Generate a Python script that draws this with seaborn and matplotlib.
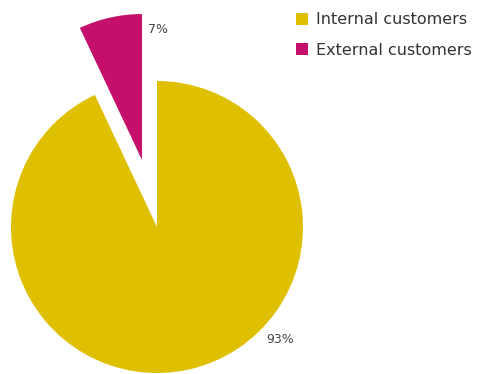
import matplotlib
matplotlib.use("Agg")
import matplotlib.pyplot as plt
import seaborn as sns
from matplotlib.lines import Line2D

categories = ["External customers", "Internal customers"]
values = [7, 93]
labels = ["7%", "93%"]
colors = ["#C4106A", "#DFC000"]

sns.set_theme(style="white")
plt.rcParams['font.family'] = ['DejaVu Sans']

fig = plt.figure(figsize=(4.78, 3.74), dpi=100)
ax = fig.add_axes([0, 0, 1, 1])
s = 146.0
cx, cy = 157.0, 147.0

ax.pie(values, colors=colors, startangle=90, counterclock=True,
       explode=[0.47, 0], radius=1.0, center=(0, 0), frame=True,
       wedgeprops=dict(linewidth=0))
ax.set_xlim(-cx / s, (478 - cx) / s)
ax.set_ylim(-cy / s, (374 - cy) / s)
ax.set_aspect("auto")
ax.axis("off")

ax.text(-0.06, 1.35, labels[0], fontsize=9, color="#444444", ha="left", va="center")
ax.text(0.75, -0.77, labels[1], fontsize=9, color="#444444", ha="left", va="center")

handles = [Line2D([0], [0], marker="s", linestyle="none", markersize=8,
                  markerfacecolor=colors[1], markeredgewidth=0),
           Line2D([0], [0], marker="s", linestyle="none", markersize=8,
                  markerfacecolor=colors[0], markeredgewidth=0)]
leg = fig.legend(handles, [categories[1], categories[0]], loc="upper left",
                 bbox_to_anchor=(289 / 478, 1 - 6 / 374), frameon=False,
                 fontsize=11.5, handlelength=0.8, handletextpad=0.5,
                 labelspacing=0.95, borderaxespad=0)
for t in leg.get_texts():
    t.set_color("#333333")

fig.savefig("out.png", dpi=100)
